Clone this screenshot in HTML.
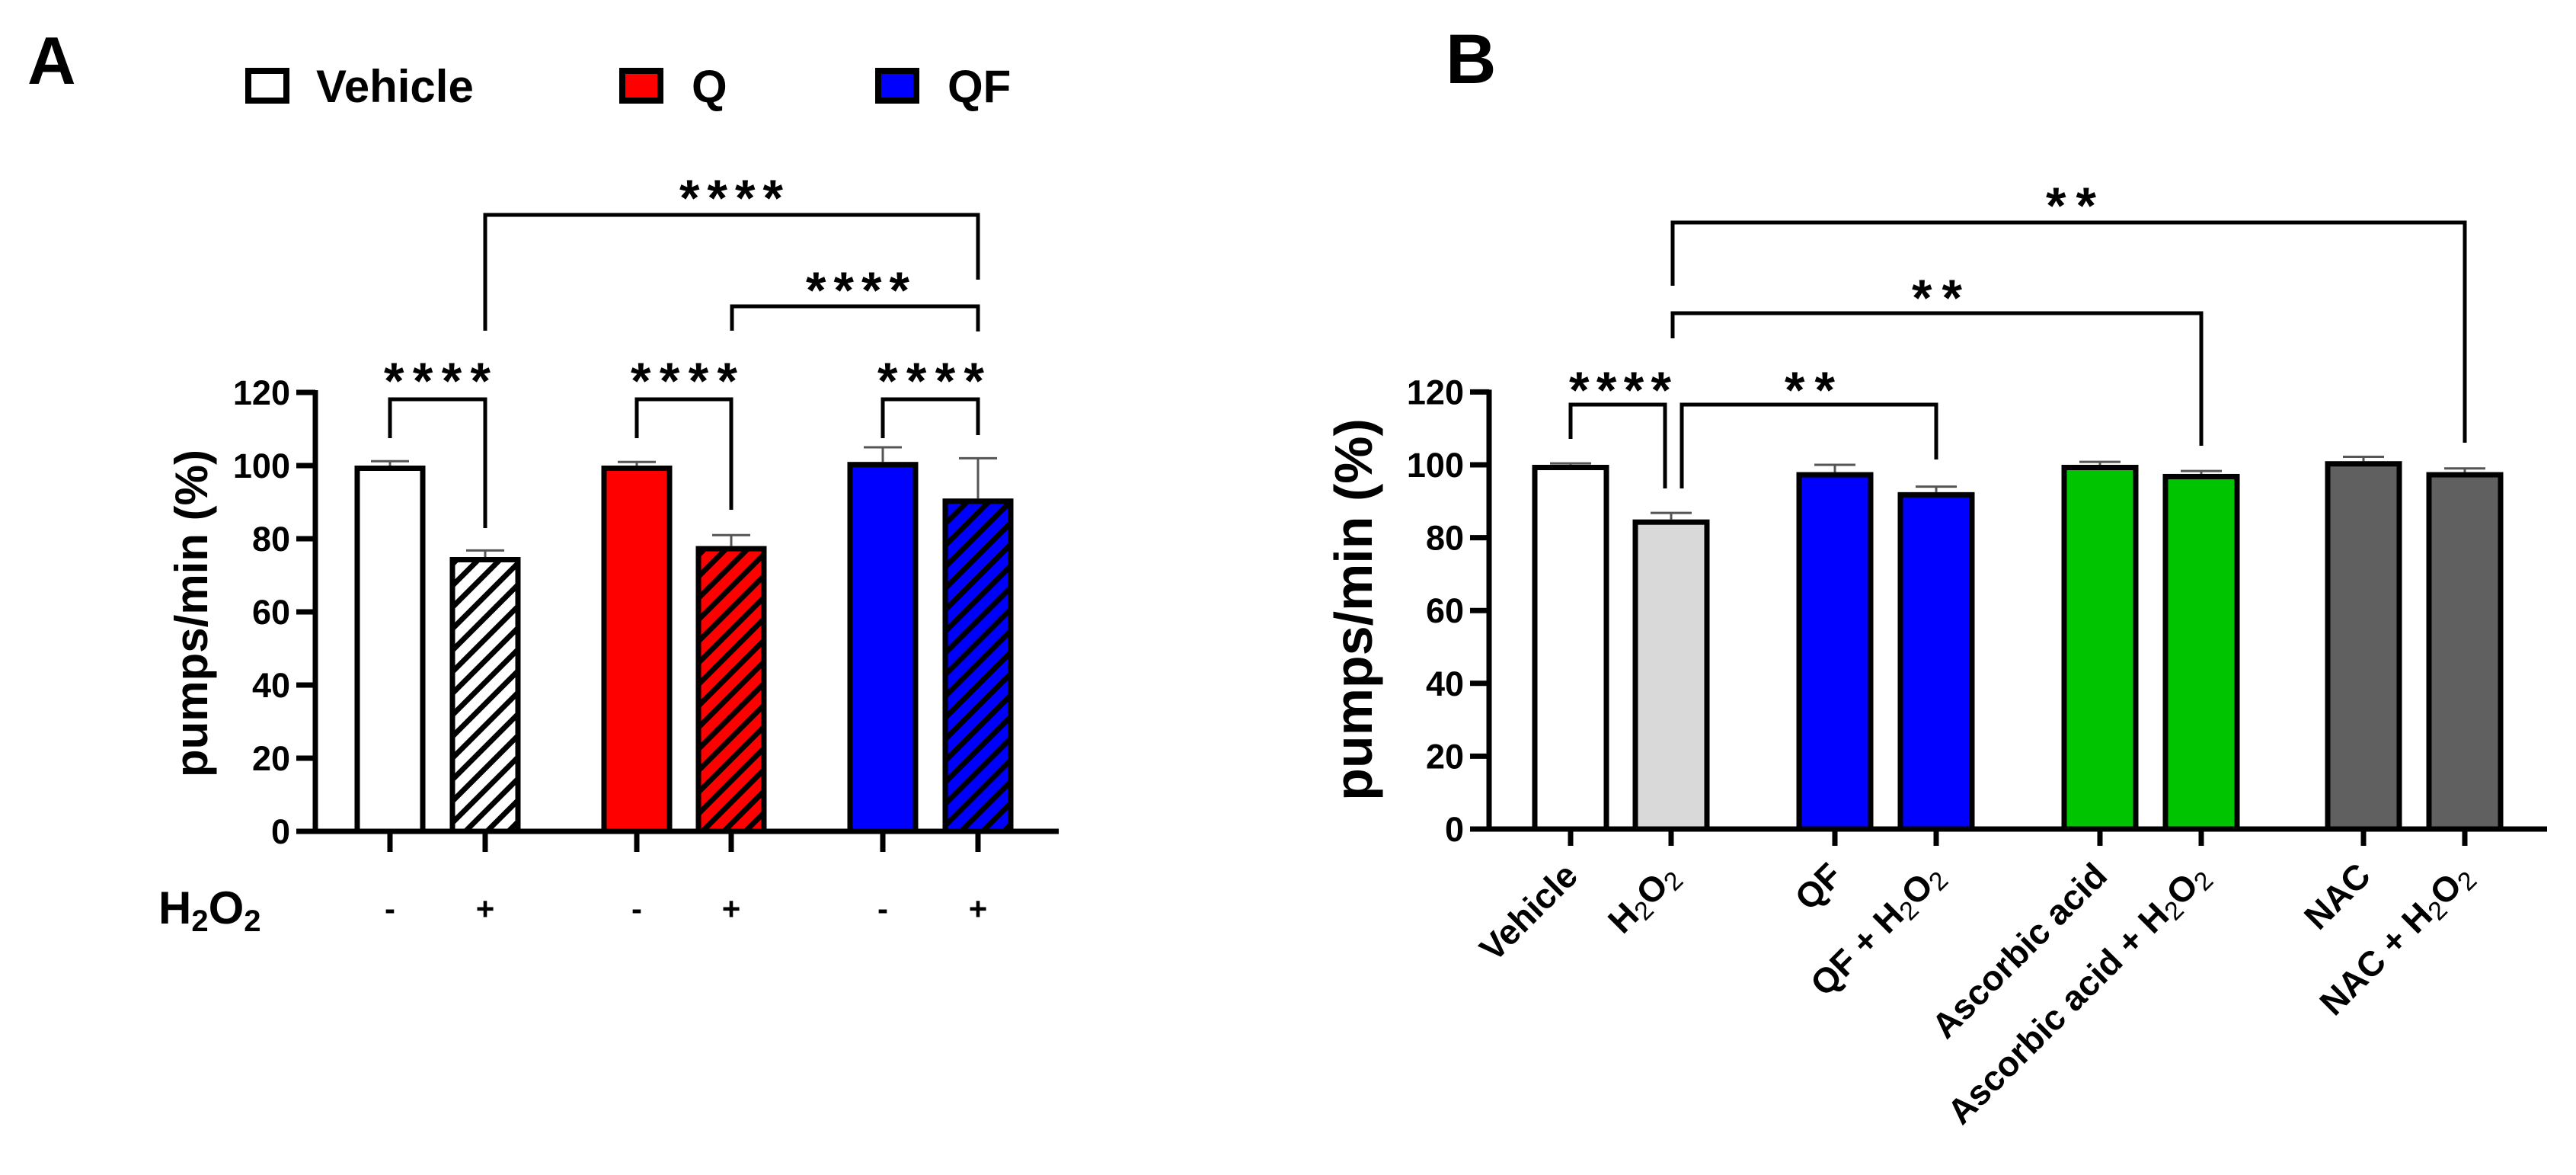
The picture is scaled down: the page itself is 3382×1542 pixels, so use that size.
<!DOCTYPE html>
<html><head><meta charset="utf-8"><style>
html,body{margin:0;padding:0;background:#fff;}
svg{display:block;font-family:"Liberation Sans",Arial,sans-serif;font-weight:bold;}
</style></head><body>
<svg id="fig" width="3382" height="1542" viewBox="0 0 3382 1542" xmlns="http://www.w3.org/2000/svg">
<defs>
<pattern id="hatchW" patternUnits="userSpaceOnUse" width="20" height="20" patternTransform="rotate(45)"><rect width="20" height="20" fill="#fff"/><rect width="7" height="20" fill="#000"/></pattern>
<pattern id="hatchR" patternUnits="userSpaceOnUse" width="20" height="20" patternTransform="rotate(45)"><rect width="20" height="20" fill="#ff0000"/><rect width="7" height="20" fill="#000"/></pattern>
<pattern id="hatchB" patternUnits="userSpaceOnUse" width="20" height="20" patternTransform="rotate(45)"><rect width="20" height="20" fill="#0000ff"/><rect width="7" height="20" fill="#000"/></pattern>
</defs>
<g id="panelA"></g>
<g id="panelB"></g>
</svg>
<script>
// ---------- Panel A data ----------
const catsA = ["Vehicle -", "Vehicle +", "Q -", "Q +", "QF -", "QF +"];
const signsA = ["-", "+", "-", "+", "-", "+"];
const valuesA = [100, 75, 100, 78, 101, 91];
const errorsA = [1.2, 1.8, 1.0, 3.0, 4.0, 11.0];
const ticksA = [0, 20, 40, 60, 80, 100, 120];
// ---------- Panel B data ----------
const catsB = ["Vehicle", "H2O2", "QF", "QF + H2O2", "Ascorbic acid", "Ascorbic acid + H2O2", "NAC", "NAC + H2O2"];
const valuesB = [100, 85, 98, 92.5, 100, 97.5, 101, 98];
const errorsB = [0.4, 1.8, 2.0, 1.5, 0.8, 0.8, 1.2, 1.0];
const ticksB = [0, 20, 40, 60, 80, 100, 120];

const NS = "http://www.w3.org/2000/svg";
function mk(tag, attrs, parent){ const e=document.createElementNS(NS,tag); for(const k in attrs) e.setAttribute(k,attrs[k]); parent.appendChild(e); return e; }
function line(p,x1,y1,x2,y2,w,c){ return mk("line",{x1,y1,x2,y2,stroke:c||"#000","stroke-width":w},p); }

const yA = v => 1091 - v*4.8;
const xA0 = 512, groupGapA = [0,125,324,448,647,772];
const xA = i => xA0 + groupGapA[i];
const yB = v => 1088 - v*4.78;
const tickXB = [2062,2194,2409,2542,2757,2890,3103,3236];
const xB = i => tickXB[i];

// ================= PANEL A =================
const A = document.getElementById("panelA");
let t = mk("text",{x:36,y:110,"font-size":88},A); t.textContent="A";



const legItems=[["Vehicle","#fff",322,415],["Q","#ff0000",813,908],["QF","#0000ff",1149,1244]];
legItems.forEach(l=>{
  const g=mk("g",{},A);
  
  
  mk("rect",{x:l[2]+4,y:93,width:50,height:39,fill:l[1],stroke:"#000","stroke-width":8},g);
  const tx=mk("text",{x:l[3],y:134,"font-size":60},g); tx.textContent=l[0];
});

const axA=mk("g",{},A);


line(axA,414,yA(120)-3,414,1094,7);
ticksA.forEach(v=>{
  line(axA,389,yA(v),414,yA(v),7);
  const tx=mk("text",{x:381,y:yA(v)+16,"font-size":45,"text-anchor":"end"},axA); tx.textContent=v;
});
t=mk("text",{x:0,y:0,"font-size":60,"text-anchor":"middle",transform:"translate(272,805) rotate(-90)"},A);
t.textContent="pumps/min (%)";


const xaxA=mk("g",{},A);


line(xaxA,411,1091,1390,1091,7);
const fillsA=["#fff","url(#hatchW)","#ff0000","url(#hatchR)","#0000ff","url(#hatchB)"];
catsA.forEach((c,i)=>{
  const cx=xA(i), top=yA(valuesA[i]);
  const eb=mk("g",{},A);
  
  
  line(eb,cx,top,cx,yA(valuesA[i]+errorsA[i]),3,"#555");
  line(eb,cx-25,yA(valuesA[i]+errorsA[i]),cx+25,yA(valuesA[i]+errorsA[i]),3,"#555");
  const r=mk("rect",{x:cx-43,y:top+3.5,width:86,height:1091-top-3.5,fill:fillsA[i],stroke:"#000","stroke-width":7},A);
  
  
  line(xaxA,cx,1091,cx,1118,7);
  const s=mk("text",{x:cx,y:1207,"font-size":42,"text-anchor":"middle"},xaxA); s.textContent=signsA[i];
});
t=mk("text",{x:208,y:1212,"font-size":60},A);
t.innerHTML='H<tspan font-size="40" dy="10">2</tspan><tspan dy="-10">O</tspan><tspan font-size="40" dy="10">2</tspan>';



function stars(p,cx,cy,n,w){
  const tx=mk("text",{x:cx-w/2,y:cy+39,"font-size":68,textLength:w,lengthAdjust:"spacing"},p);
  tx.textContent="*".repeat(n); return tx;
}
function bracket(p,x1,x2,y,l1,l2,name){
  const g=mk("g",{},p);
  
  
  mk("path",{d:`M${x1},${l1} L${x1},${y} L${x2},${y} L${x2},${l2}`,fill:"none",stroke:"#000","stroke-width":5},g);
  return g;
}
let g;
g=bracket(A,xA(0),xA(1),524,575,693,"sig-bracket-vehicle"); stars(g,574,484,4,140);
g=bracket(A,xA(2),xA(3),524,575,669,"sig-bracket-q"); stars(g,898,484,4,140);
g=bracket(A,xA(4),xA(5),524,575,571,"sig-bracket-qf"); stars(g,1222,484,4,140);
g=bracket(A,xA(3)+1,xA(5),402,434,435,"sig-bracket-q-vs-qf"); stars(g,1126,365,4,136);
g=bracket(A,xA(1),xA(5),282,434,367,"sig-bracket-vehicle-vs-qf"); stars(g,960,244,4,136);

// ================= PANEL B =================
const B = document.getElementById("panelB");
t=mk("text",{x:1898,y:109,"font-size":92},B); t.textContent="B";


const axB=mk("g",{},B);


line(axB,1955,yB(120)-3,1955,1091,7);
ticksB.forEach(v=>{
  line(axB,1930,yB(v),1955,yB(v),7);
  const tx=mk("text",{x:1922,y:yB(v)+16,"font-size":45,"text-anchor":"end"},axB); tx.textContent=v;
});
t=mk("text",{x:0,y:0,"font-size":70,"text-anchor":"middle",transform:"translate(1801,800) rotate(-90)"},B);
t.textContent="pumps/min (%)";


const xaxB=mk("g",{},B);


line(xaxB,1952,1088,3344,1088,7);
const fillsB=["#fff","#d9d9d9","#0000ff","#0000ff","#00c400","#00c400","#606060","#606060"];
catsB.forEach((c,i)=>{
  const cx=xB(i), top=yB(valuesB[i]);
  const eb=mk("g",{},B);
  
  
  line(eb,cx,top,cx,yB(valuesB[i]+errorsB[i]),3,"#555");
  line(eb,cx-27,yB(valuesB[i]+errorsB[i]),cx+27,yB(valuesB[i]+errorsB[i]),3,"#555");
  const r=mk("rect",{x:cx-47,y:top+3.5,width:94,height:1088-top-3.5,fill:fillsB[i],stroke:"#000","stroke-width":7},B);
  
  
  line(xaxB,cx,1088,cx,1110,7);
  const lab=mk("text",{x:0,y:0,"font-size":46,"text-anchor":"end",transform:`translate(${cx+12},1152) rotate(-45)`},xaxB);
  if(c.indexOf("H2O2")>=0){
    const pre=c.replace("H2O2","");
    lab.innerHTML=pre+'H<tspan font-weight="normal" font-size="34" dy="8">2</tspan><tspan dy="-8">O</tspan><tspan font-weight="normal" font-size="34" dy="8">2</tspan>';
  } else lab.textContent=c;
  
  
});
g=bracket(B,xB(0),xB(1)-8,531,576,641,"sig-bracket-vehicle-h2o2"); stars(g,2127,496,4,134);
g=bracket(B,xB(1)+14,xB(3),531,641,603,"sig-bracket-h2o2-qf"); stars(g,2376,496,2,66);
g=bracket(B,xB(1)+2,xB(5),411,444,585,"sig-bracket-h2o2-aa"); stars(g,2543,375,2,66);
g=bracket(B,xB(1)+2,xB(7),292,375,581,"sig-bracket-h2o2-nac"); stars(g,2719,254,2,66);
</script>
</body></html>
